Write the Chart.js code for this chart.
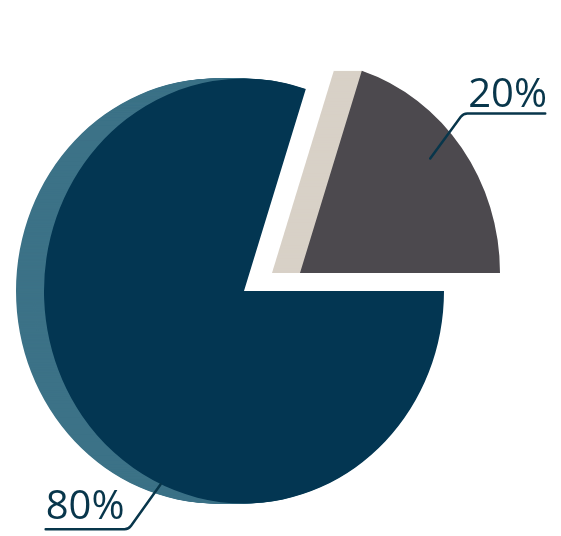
<!DOCTYPE html>
<html>
<head>
<meta charset="utf-8">
<script src="https://cdn.jsdelivr.net/npm/chart.js@4.4.1/dist/chart.umd.min.js"></script>
<style>
  html, body { margin: 0; padding: 0; background: #fff; }
  #wrap { width: 561px; height: 536px; position: relative; }
</style>
</head>
<body>
<div id="wrap"><canvas id="pie-chart"></canvas></div>
<script>
const shares = [80, 20];
const shareLabels = ['80%', '20%'];

const faceColors = ['#033652', '#4c494e'];
const sideColors = ['#3c7287', '#d8d1c7'];
const inkColor = '#08364b';

// fake 3d look: side is the slice pushed left, pie a bit taller than wide
const depth = 28;
const squash = 1.0625;
const explode = { dx: 56, dy: -17 };

// where the leader lines start (fraction of slice angle / radius) and bend
const labelSpots = [
  { along: 0.398, out: 1.0, bend: [-32, 45], end: [-115, 45], gap: 10 },
  { along: 0.45, out: 0.845, bend: [33, -45], end: [115, -45], gap: 6 }
];

const pseudo3d = {
  id: 'pseudo3d',
  afterDatasetsUpdate(chart) {
    const arcs = chart.getDatasetMeta(0).data;
    arcs[1].x += explode.dx;
    arcs[1].y += explode.dy;
  },
  beforeDatasetsDraw(chart) {
    const ctx = chart.ctx;
    const arcs = chart.getDatasetMeta(0).data;
    const cx = arcs[0].x, cy = arcs[0].y;
    ctx.save();
    ctx.translate(cx, cy);
    ctx.scale(1, squash);
    ctx.translate(-cx, -cy);
    arcs.forEach((arc, i) => {
      ctx.fillStyle = sideColors[i];
      for (let k = depth; k > 0; k--) {
        ctx.beginPath();
        ctx.moveTo(arc.x - k, arc.y);
        ctx.arc(arc.x - k, arc.y, arc.outerRadius, arc.startAngle, arc.endAngle);
        ctx.closePath();
        ctx.fill();
      }
    });
  },
  afterDatasetsDraw(chart) {
    chart.ctx.restore();
  },
  afterDraw(chart) {
    const ctx = chart.ctx;
    const arcs = chart.getDatasetMeta(0).data;
    const cy = arcs[0].y;
    ctx.save();
    ctx.strokeStyle = inkColor;
    ctx.fillStyle = inkColor;
    ctx.lineWidth = 2.5;
    ctx.lineCap = 'round';
    ctx.font = '40px "Open Sans"';
    ctx.textBaseline = 'alphabetic';
    ctx.textAlign = 'left';
    arcs.forEach((arc, i) => {
      const spot = labelSpots[i];
      const a = arc.startAngle + spot.along * (arc.endAngle - arc.startAngle);
      const r = arc.outerRadius * spot.out;
      const ax = arc.x + r * Math.cos(a);
      const ay = cy + (arc.y + r * Math.sin(a) - cy) * squash;
      const bx = ax + spot.bend[0], by = ay + spot.bend[1];
      const ex = ax + spot.end[0], ey = ay + spot.end[1];
      ctx.beginPath();
      ctx.moveTo(ax, ay);
      ctx.arcTo(bx, by, ex, ey, 8);
      ctx.lineTo(ex, ey);
      ctx.stroke();
      ctx.fillText(shareLabels[i], ex < bx ? ex : bx + 5, by - spot.gap);
    });
    ctx.restore();
  }
};

new Chart(document.querySelector('#pie-chart').getContext('2d'), {
  type: 'pie',
  data: {
    labels: shareLabels,
    datasets: [{
      data: shares,
      backgroundColor: faceColors,
      borderWidth: 0,
      clip: false
    }]
  },
  options: {
    responsive: true,
    maintainAspectRatio: false,
    animation: false,
    events: [],
    rotation: 90,
    layout: { padding: { left: 44, right: 117, top: 91, bottom: 45 } },
    plugins: {
      legend: { display: false },
      tooltip: { enabled: false }
    }
  },
  plugins: [pseudo3d]
});
</script>
</body>
</html>
